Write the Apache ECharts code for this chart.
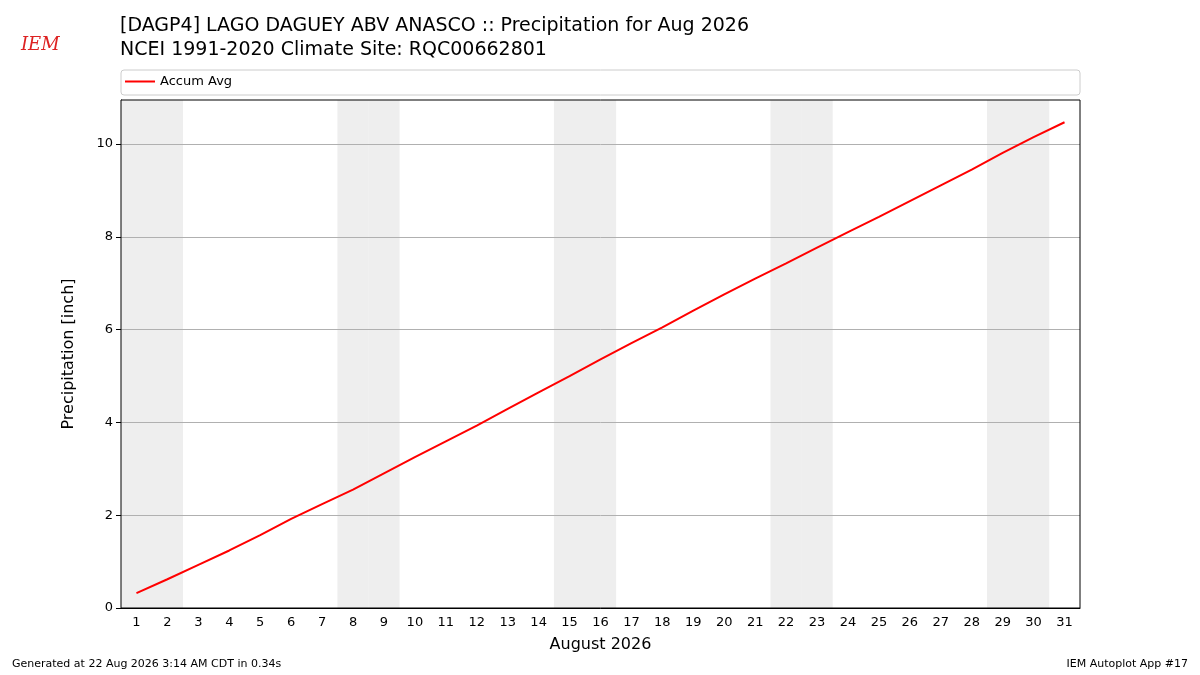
<!DOCTYPE html>
<html><head><meta charset="utf-8">
<script src="https://cdn.jsdelivr.net/npm/echarts@6/dist/echarts.min.js"></script>
<style>html,body{margin:0;padding:0;background:#fff}#c{width:1200px;height:675px}</style>
</head><body><div id="c"></div>
<script>
const days = Array.from({length:31},(_,i)=>String(i+1));
const accumAvg = [0.32,0.62,0.93,1.24,1.57,1.92,2.24,2.55,2.90,3.25,3.59,3.93,4.29,4.65,5.00,5.36,5.71,6.05,6.41,6.76,7.10,7.43,7.77,8.10,8.43,8.77,9.11,9.45,9.81,10.15,10.47];
const weekendDays = ['1','2','8','9','15','16','22','23','29','30'];
const yTicks = [0,2,4,6,8,10];
const shade = days.map(d => weekendDays.includes(d) ? 10.95 : null);
const chart = echarts.init(document.getElementById('c'));
const F = 'DejaVu Sans';
chart.setOption({
  animation:false,
  textStyle:{fontFamily:F},
  title:[
    {text:'[DAGP4] LAGO DAGUEY ABV ANASCO :: Precipitation for Aug 2026\nNCEI 1991-2020 Climate Site: RQC00662801',left:115,top:9,textStyle:{fontSize:19,fontWeight:'normal',color:'#000',lineHeight:24,fontFamily:F}},
    {text:'Generated at 22 Aug 2026 3:14 AM CDT in 0.34s',left:7,top:654,textStyle:{fontSize:11,fontWeight:'normal',color:'#000',fontFamily:F}},
    {text:'IEM Autoplot App #17',right:7,top:654,textStyle:{fontSize:11,fontWeight:'normal',color:'#000',fontFamily:F}},
    {text:'IEM',left:16,top:31,textStyle:{fontSize:18,fontStyle:'italic',fontFamily:'DejaVu Serif',color:'#d22',fontWeight:'normal'}}
  ],
  legend:{data:['Accum Avg'],left:121,top:72,padding:[3,10,3,4],itemGap:10,
    itemWidth:30,itemHeight:2,icon:'rect',textStyle:{fontSize:13,color:'#000'}},
  grid:{left:121,right:120,top:100,bottom:67,containLabel:false},
  xAxis:{type:'category',data:days,boundaryGap:true,name:'August 2026',nameLocation:'middle',nameGap:29,nameTextStyle:{fontSize:16,color:'#000'},
    axisLine:{lineStyle:{color:'#000'}},axisTick:{alignWithLabel:true,lineStyle:{color:'#000'}},axisLabel:{color:'#000',fontSize:13,interval:0},splitLine:{show:false}},
  yAxis:{type:'value',min:0,max:10.95,interval:2,name:'Precipitation [inch]',nameLocation:'middle',nameGap:44,nameTextStyle:{fontSize:16,color:'#000'},
    axisLine:{show:true,lineStyle:{color:'#000'}},axisTick:{show:true,lineStyle:{color:'#000'}},
    axisLabel:{color:'#000',fontSize:13,showMaxLabel:false,formatter:v=>yTicks.includes(v)?String(v):''},
    splitLine:{show:false}},
  series:[
    {type:'bar',data:shade,barWidth:'101%',barCategoryGap:'0%',itemStyle:{color:'#eeeeee'},silent:true,z:1},
    {name:'Accum Avg',type:'line',data:accumAvg,symbol:'none',lineStyle:{color:'#ff0000',width:2},itemStyle:{color:'#ff0000'},z:5,
      markLine:{silent:true,symbol:'none',label:{show:false},lineStyle:{color:'#b0b0b0',type:'solid',width:1},z:2,
        data:yTicks.filter(v=>v>0).map(v=>({yAxis:v}))}}
  ],
  graphic:[
    {type:'rect',shape:{x:121,y:100,width:959,height:508},style:{fill:'none',stroke:'#000',lineWidth:1},z:100},
    {type:'rect',shape:{x:121,y:70,width:959,height:25,r:3},style:{fill:'none',stroke:'#ccc',lineWidth:1},z:100}
  ]
});
</script></body></html>
